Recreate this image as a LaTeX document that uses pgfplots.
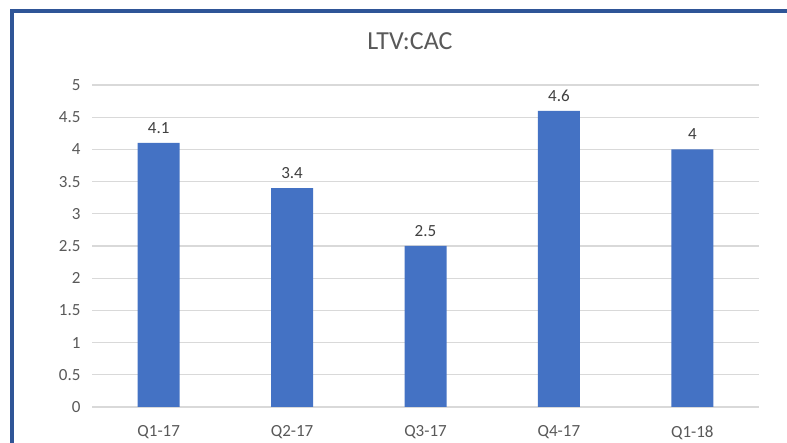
\documentclass[border=0pt]{standalone}
\usepackage{fontspec}
\setmainfont{Carlito}
\usepackage{xcolor}
\usepackage{pgfplots}
\pgfplotsset{compat=1.18}
\definecolor{barblue}{HTML}{4472C4}
\definecolor{frameblue}{HTML}{2F5597}
\definecolor{gridgray}{HTML}{D9D9D9}
\definecolor{ticktext}{HTML}{595959}
\definecolor{labeltext}{HTML}{404040}

\begin{document}
\begin{tikzpicture}
\useasboundingbox (0pt,0pt) rectangle (787pt,443pt);
\fill[white] (0pt,0pt) rectangle (787pt,443pt);
% outer frame of the screenshot
\draw[frameblue, line width=4pt] (12pt,0pt) -- (12pt,432pt) -- (787pt,432pt);
\begin{axis}[at={(92pt,36pt)}, anchor=south west, scale only axis,
  width=667pt, height=322pt,
  ymin=0, ymax=5, ytick={0,0.5,...,5},
  xmin=-0.5, xmax=4.5, xtick=data,
  xticklabels={Q1-17,Q2-17,Q3-17,Q4-17,Q1-18},
  axis line style={draw=none}, tick style={draw=none},
  ymajorgrids, grid style={gridgray, line width=1.1pt},
  major tick length=0pt,
  yticklabel style={font=\fontsize{17}{20}\selectfont, text=ticktext, xshift=-8pt},
  xticklabel style={font=\fontsize{17}{20}\selectfont, text=ticktext, yshift=-15pt},
  /pgf/number format/assume math mode=true,
  yticklabel={\pgfmathprintnumber[fixed, precision=1]{\tick}},
  ybar, bar width=42pt,
  nodes near coords,
  every node near coord/.append style={font=\fontsize{17}{20}\selectfont, text=labeltext, yshift=6pt},
  clip=false]
\addplot[fill=barblue, draw=none] coordinates {(0,4.1) (1,3.4) (2,2.5) (3,4.6) (4,4)};
\end{axis}
\node[text=ticktext, font=\fontsize{26}{30}\selectfont] at (410pt,402pt) {LTV:CAC};
\end{tikzpicture}
\end{document}
